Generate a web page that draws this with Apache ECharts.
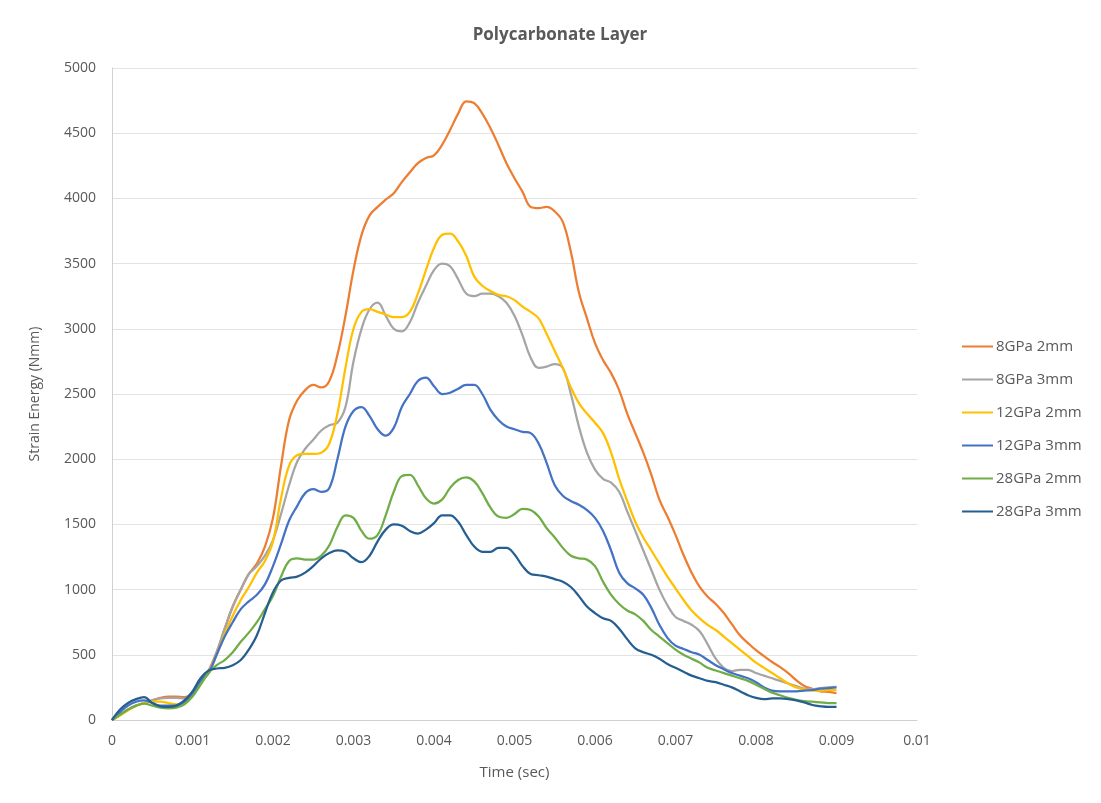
<!DOCTYPE html>
<html><head><meta charset="utf-8">
<script src="https://cdn.jsdelivr.net/npm/echarts@6/dist/echarts.min.js"></script>
<style>html,body{margin:0;padding:0;background:#fff}#c{width:1101px;height:803px}</style>
</head><body><div id="c"></div>
<script>
const seriesNames = ["8GPa 2mm","8GPa 3mm","12GPa 2mm","12GPa 3mm","28GPa 2mm","28GPa 3mm"];
const seriesColors = ["#ED7D31","#A5A5A5","#FFC000","#4472C4","#70AD47","#255E91"];
// time samples every 0.0001 s from 0 to 0.009
const timeSteps = Array.from({length: 91}, (_, i) => +(i * 0.0001).toFixed(4));

const e8_2mm = [0,40,80,110,130,150,170,180,180,175,210,300,
 380,520,700,870,1000,1120,1200,1330,1550,1950,2300,2450,2530,2570,2550,2600,2800,3100,
 3450,3720,3870,3935,3990,4040,4125,4200,4270,4310,4330,4410,4525,4650,4745,4730,4650,4540,4410,4270,
 4155,4050,3935,3925,3935,3900,3820,3590,3280,3080,2890,2760,2660,2530,2350,2200,2050,1880,1690,1560,
 1420,1265,1130,1020,945,890,820,735,650,590,535,490,445,405,360,305,260,240,220,215,205];
const e8_3mm = [0,40,80,110,130,150,165,170,170,165,200,290,
 370,520,700,870,1000,1120,1180,1260,1380,1580,1800,1980,2080,2150,2220,2260,2280,2400,
 2750,3000,3150,3200,3100,3000,2980,3050,3200,3330,3450,3500,3480,3380,3270,3250,3270,3270,3250,3200,
 3100,2950,2780,2700,2710,2730,2700,2500,2250,2050,1920,1850,1820,1750,1600,1450,1300,1150,1000,880,
 790,760,730,680,580,470,400,375,385,385,360,340,320,300,280,260,240,235,245,250,255];
const e12_2mm = [0,35,75,110,130,140,140,130,120,130,190,290,
 360,500,660,800,920,1020,1130,1220,1370,1700,1950,2030,2040,2040,2050,2120,2350,2700,
 3000,3130,3150,3130,3110,3090,3090,3130,3270,3450,3620,3720,3730,3670,3560,3400,3330,3290,3260,3250,
 3220,3170,3130,3080,2960,2830,2700,2550,2430,2350,2280,2200,2050,1850,1680,1520,1400,1300,1200,1100,
 1010,920,840,780,730,690,640,590,540,490,440,400,360,320,280,250,235,225,225,230,230];
const e12_3mm = [0,60,110,140,150,130,110,110,110,140,200,300,
 360,500,640,750,850,910,960,1040,1180,1350,1530,1640,1740,1770,1750,1780,2000,2250,
 2370,2400,2330,2230,2180,2240,2400,2500,2600,2625,2560,2500,2510,2540,2570,2570,2500,2380,2300,2250,
 2230,2210,2200,2120,1970,1800,1720,1680,1650,1610,1550,1450,1300,1130,1050,1010,960,860,730,630,
 570,545,520,500,460,420,390,360,340,320,290,250,225,220,220,220,225,230,240,245,250];
const e28_2mm = [0,40,80,110,125,110,95,90,95,120,180,270,
 360,420,460,520,600,670,750,850,950,1100,1220,1240,1230,1230,1260,1340,1480,1570,
 1550,1450,1390,1420,1570,1750,1870,1880,1800,1700,1660,1690,1780,1840,1860,1830,1740,1630,1560,1550,
 1580,1620,1610,1560,1470,1400,1320,1260,1240,1230,1180,1060,960,890,840,810,760,690,640,590,
 540,500,470,440,400,380,360,340,320,300,270,240,210,190,170,155,145,140,135,130,130];
const e28_3mm = [0,80,130,160,175,130,105,100,110,150,220,320,
 380,395,400,420,460,540,650,820,980,1070,1090,1100,1130,1180,1240,1280,1300,1290,
 1240,1210,1260,1370,1460,1500,1490,1450,1430,1460,1510,1570,1570,1520,1420,1330,1290,1290,1320,1320,
 1270,1180,1120,1110,1100,1080,1060,1020,950,870,820,780,760,700,620,550,520,500,470,430,
 400,370,340,320,300,290,270,250,220,190,170,160,165,165,160,150,135,115,105,100,100];

const seriesValues = [e8_2mm, e8_3mm, e12_2mm, e12_3mm, e28_2mm, e28_3mm];
const xTicks = {min: 0, max: 0.01, step: 0.001};
const yTicks = {min: 0, max: 5000, step: 500};

const font = "'Open Sans', 'Liberation Sans', sans-serif";
const chart = echarts.init(document.getElementById('c'));
chart.setOption({
  animation: false,
  backgroundColor: '#fff',
  title: {text: 'Polycarbonate Layer', left: 555, top: 22, textAlign: 'center',
    textStyle: {fontFamily: font, fontSize: 17, fontWeight: 'bold', color: '#595959'}},
  legend: {orient: 'vertical', left: 957, top: 334, itemGap: 18, itemWidth: 31, itemHeight: 2,
    icon: 'rect', textStyle: {fontFamily: font, fontSize: 15, color: '#595959', padding: [0,0,0,-2]},
    data: seriesNames},
  grid: {left: 112, right: 184, top: 68, bottom: 83},
  xAxis: {type: 'value', min: xTicks.min, max: xTicks.max, interval: xTicks.step,
    name: 'Time (sec)', nameLocation: 'middle', nameGap: 45,
    nameTextStyle: {fontFamily: font, fontSize: 15, color: '#595959'},
    axisLine: {lineStyle: {color: '#d0d0d0'}}, axisTick: {show: false},
    axisLabel: {fontFamily: font, fontSize: 14, color: '#595959', margin: 14,
      formatter: v => String(+v.toFixed(3))},
    splitLine: {show: false}},
  yAxis: {type: 'value', min: yTicks.min, max: yTicks.max, interval: yTicks.step,
    name: 'Strain Energy (Nmm)', nameLocation: 'middle', nameGap: 70,
    nameTextStyle: {fontFamily: font, fontSize: 14, color: '#595959'},
    axisLine: {show: true, lineStyle: {color: '#d0d0d0'}}, axisTick: {show: false},
    axisLabel: {fontFamily: font, fontSize: 14, color: '#595959', margin: 16,
      formatter: v => String(v)},
    splitLine: {lineStyle: {color: '#e3e3e3'}}},
  series: seriesNames.map((n, i) => ({
    name: n, type: 'line', smooth: 0.4, showSymbol: false,
    color: seriesColors[i],
    lineStyle: {width: 2.25, color: seriesColors[i]},
    data: timeSteps.map((t, k) => [t, seriesValues[i][k]])
  }))
});
</script></body></html>
